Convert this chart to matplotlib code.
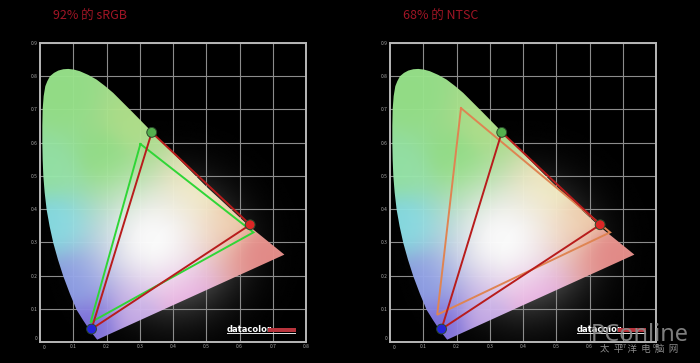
import numpy as np
import matplotlib
matplotlib.use("Agg")
import matplotlib.pyplot as plt
from matplotlib.patches import Polygon, Rectangle
from matplotlib.colors import to_rgb

plt.rcParams['font.family'] = ['Noto Sans CJK SC', 'DejaVu Sans']

titles = ["92% 的 sRGB", "68% 的 NTSC"]
x_ticks = [0.1, 0.2, 0.3, 0.4, 0.5, 0.6, 0.7, 0.8]
y_ticks = [0.1, 0.2, 0.3, 0.4, 0.5, 0.6, 0.7, 0.8, 0.9]

locus_x = [0.172, 0.150, 0.130, 0.110, 0.090, 0.070, 0.054, 0.040, 0.029, 0.020, 0.014, 0.010, 0.008, 0.007,
           0.007, 0.008, 0.011, 0.016, 0.022, 0.030, 0.042, 0.055, 0.070, 0.085, 0.102, 0.120, 0.145, 0.170,
           0.195, 0.220, 0.250, 0.280, 0.335, 0.400, 0.500, 0.630, 0.735]
locus_y = [0.007, 0.035, 0.065, 0.097, 0.145, 0.198, 0.248, 0.298, 0.348, 0.398, 0.450, 0.500, 0.550, 0.600,
           0.650, 0.700, 0.740, 0.770, 0.785, 0.800, 0.810, 0.817, 0.821, 0.822, 0.820, 0.815, 0.804, 0.790,
           0.771, 0.750, 0.720, 0.690, 0.634, 0.569, 0.468, 0.348, 0.263]

display_x = [0.336, 0.632, 0.155]
display_y = [0.631, 0.353, 0.039]
display_colors = ["#55b04e", "#dc2626", "#2424d8"]
srgb_x = [0.302, 0.642, 0.152]
srgb_y = [0.596, 0.330, 0.059]
ntsc_x = [0.2135, 0.662, 0.142]
ntsc_y = [0.704, 0.330, 0.082]

anchor_x = [0.06, 0.20, 0.03, 0.04, 0.10, 0.15, 0.30, 0.42, 0.66, 0.50, 0.58, 0.28]
anchor_y = [0.74, 0.55, 0.52, 0.36, 0.17, 0.05, 0.07, 0.13, 0.27, 0.47, 0.38, 0.66]
anchor_c = ["#98e48a", "#92e284", "#98e8a8", "#84dfe8", "#8a9ce8", "#7c6ee0", "#c4a4ea", "#eca4e0",
            "#e98a88", "#f4ecb8", "#f5d0aa", "#b4e48c"]

W = 400
H = 450
gx, gy = np.meshgrid(np.linspace(0, 0.8, W), np.linspace(0, 0.9, H))
ax_ = np.array(anchor_x)[:, None, None]
ay_ = np.array(anchor_y)[:, None, None]
weights = 1.0 / (((gx - ax_) ** 2 + (gy - ay_) ** 2) + 0.003) ** 1.6
weights /= weights.sum(axis=0)
cols = np.array([to_rgb(c) for c in anchor_c])
field = np.einsum('nij,nk->ijk', weights, cols)
white = np.exp(-((gx - 0.34) ** 2 + (gy - 0.31) ** 2) / (2 * 0.125 ** 2))[..., None]
field = field * (1 - white) + white
glow = 0.5 * np.exp(-((gx - 0.40) ** 2 + (gy - 0.28) ** 2) / (2 * 0.125 ** 2))

fig = plt.figure(figsize=(7, 3.63), dpi=100, facecolor="black")
FW, FH = 700.0, 363.0
frame_color = "#b8b8b8"


def panel(offset, title, gamut_x, gamut_y, gamut_color):
    ax = fig.add_axes([(40 + offset) / FW, 1 - 342 / FH, 266 / FW, 299 / FH], facecolor="black")
    ax.set_xlim(0, 0.8)
    ax.set_ylim(0, 0.9)
    ax.imshow(glow, extent=(0, 0.8, 0, 0.9), origin="lower", cmap="gray", vmin=0, vmax=1,
              aspect="auto", zorder=0)
    ax.set_xticks(x_ticks)
    ax.set_yticks(y_ticks)
    ax.set_xticklabels([f"{v:.1f}" for v in x_ticks])
    ax.set_yticklabels([f"{v:.1f}" for v in y_ticks])
    ax.tick_params(length=0, labelsize=3.5, labelcolor="#a8a8a8", pad=1.5)
    ax.grid(True, color="#8c8c8c", lw=0.8, zorder=1)
    ax.set_axisbelow(True)
    for s in ax.spines.values():
        s.set_color(frame_color)
        s.set_linewidth(1.4)
    ax.text(0.012, -0.018, "0", color="#a8a8a8", fontsize=3.5, ha="center", va="center", clip_on=False)
    ax.text(-0.012, 0.012, "0", color="#a8a8a8", fontsize=3.5, ha="center", va="center", clip_on=False)

    poly = Polygon(np.column_stack([locus_x, locus_y]), closed=True, transform=ax.transData,
                   facecolor="none", edgecolor="none")
    ax.add_patch(poly)
    im = ax.imshow(field, extent=(0, 0.8, 0, 0.9), origin="lower", aspect="auto", zorder=2,
                   alpha=0.97, interpolation="bilinear")
    im.set_clip_path(poly)

    ax.plot(gamut_x + gamut_x[:1], gamut_y + gamut_y[:1], color=gamut_color, lw=1.4, zorder=3,
            solid_joinstyle="miter")
    ax.plot(display_x + display_x[:1], display_y + display_y[:1], color="#b81c1c", lw=1.4, zorder=4,
            solid_joinstyle="miter")
    ax.scatter(display_x, display_y, s=50, c=display_colors, edgecolors="#2c4a2c", linewidths=0.7, zorder=5)

    # logo
    ax.text(0.561, 0.039, "datacolor", color="white", fontsize=6.0, fontweight="bold",
            family="DejaVu Sans", ha="left", va="center", zorder=6)
    ax.add_patch(Rectangle((0.686, 0.031), 0.083, 0.010, color="#b8343c", zorder=6, lw=0))
    ax.add_patch(Rectangle((0.561, 0.024), 0.208, 0.004, color="#e0e0e0", zorder=6, lw=0))

    fig.text((53 + offset) / FW, 1 - 16.5 / FH, title, color="#a01525", fontsize=9, ha="left", va="center")
    return ax


panel(0, titles[0], srgb_x, srgb_y, "#2fd636")
panel(350, titles[1], ntsc_x, ntsc_y, "#df8452")

fig.text(640 / FW, 1 - 335 / FH, "PConline", color="#8c8c8c", alpha=0.9, fontsize=17,
         family="Noto Sans", ha="center", va="center", fontweight="medium")
fig.text(639 / FW, 1 - 349 / FH, "太  平  洋  电  脑  网", color="#8c8c8c", fontsize=6.8,
         ha="center", va="center")

fig.savefig("out.png", dpi=100, facecolor="black")
